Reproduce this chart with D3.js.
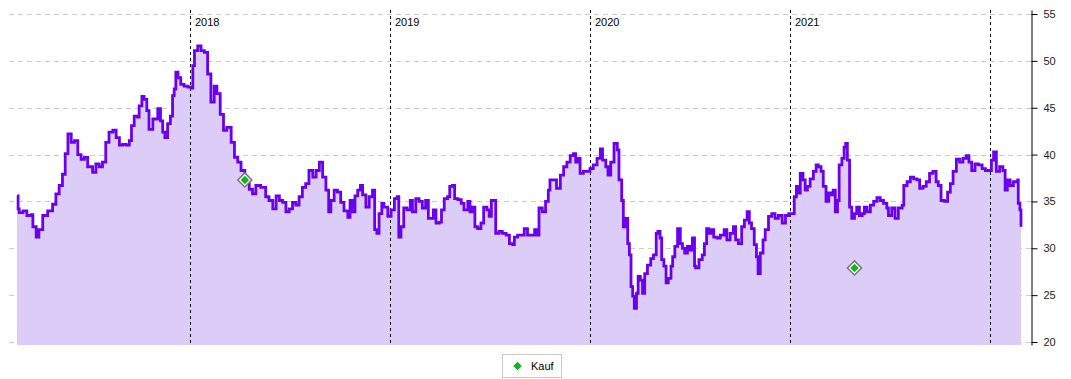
<!DOCTYPE html>
<html><head><meta charset="utf-8">
<script src="https://cdn.jsdelivr.net/npm/d3@7"></script>
<style>
html,body{margin:0;padding:0;background:#fff;}
svg{display:block;font-family:"Liberation Sans",Arial,sans-serif;}
</style></head>
<body>
<svg id="c" width="1071" height="379"></svg>
<script>
const dates = [
"2017-02-17","2017-02-19","2017-02-21","2017-02-28","2017-03-07","2017-03-15","2017-03-18","2017-03-24","2017-03-29","2017-04-05",
"2017-04-14","2017-04-23","2017-04-29","2017-05-05","2017-05-11","2017-05-16","2017-05-21","2017-05-27","2017-06-02","2017-06-08",
"2017-06-14","2017-06-20","2017-06-26","2017-07-05","2017-07-11","2017-07-17","2017-07-23","2017-07-29","2017-08-04","2017-08-11",
"2017-08-17","2017-08-23","2017-08-29","2017-09-04","2017-09-10","2017-09-14","2017-09-19","2017-09-25","2017-09-28","2017-10-03",
"2017-10-07","2017-10-12","2017-10-16","2017-10-23","2017-11-01","2017-11-06","2017-11-10","2017-11-14","2017-11-19","2017-11-24",
"2017-11-28","2017-12-01","2017-12-04","2017-12-08","2017-12-13","2017-12-19","2017-12-26",
"2018-01-02","2018-01-04","2018-01-07","2018-01-13","2018-01-19","2018-01-25","2018-01-31","2018-02-06","2018-02-12","2018-02-17",
"2018-02-23","2018-03-01","2018-03-07","2018-03-15","2018-03-21","2018-03-27","2018-04-02","2018-04-09","2018-04-17","2018-04-23",
"2018-04-29","2018-05-08","2018-05-17","2018-05-23","2018-05-30","2018-06-05","2018-06-11","2018-06-17","2018-06-23","2018-06-29",
"2018-07-05","2018-07-11","2018-07-17","2018-07-23","2018-07-29","2018-08-04","2018-08-11","2018-08-17","2018-08-23","2018-08-29",
"2018-09-04","2018-09-09","2018-09-13","2018-09-19","2018-09-25","2018-10-01","2018-10-07","2018-10-14","2018-10-18","2018-10-23",
"2018-10-27","2018-11-01","2018-11-06","2018-11-10","2018-11-16","2018-11-22","2018-11-28","2018-12-02","2018-12-06","2018-12-10",
"2018-12-15","2018-12-19","2018-12-26",
"2019-01-01","2019-01-07","2019-01-12","2019-01-15","2019-01-19","2019-01-24","2019-01-30","2019-02-05","2019-02-09","2019-02-15",
"2019-02-21","2019-02-27","2019-03-05","2019-03-10","2019-03-15","2019-03-19","2019-03-24","2019-03-30","2019-04-03","2019-04-08",
"2019-04-14","2019-04-18","2019-04-23","2019-04-27","2019-05-03","2019-05-09","2019-05-14","2019-05-21","2019-05-25","2019-05-30",
"2019-06-03","2019-06-08","2019-06-14","2019-06-19","2019-06-25","2019-06-29","2019-07-03","2019-07-08","2019-07-11","2019-07-17",
"2019-07-23","2019-07-30","2019-08-05","2019-08-11","2019-08-14","2019-08-20","2019-08-26","2019-09-01","2019-09-07","2019-09-16",
"2019-09-20","2019-09-25","2019-09-28","2019-10-04","2019-10-10","2019-10-15","2019-10-18","2019-10-24","2019-10-30","2019-11-06",
"2019-11-12","2019-11-18","2019-11-24","2019-11-30","2019-12-04","2019-12-08","2019-12-12","2019-12-18","2019-12-24","2019-12-30",
"2020-01-05","2020-01-12","2020-01-18","2020-01-22","2020-01-28","2020-02-01","2020-02-06","2020-02-12","2020-02-18","2020-02-21",
"2020-02-26","2020-02-29","2020-03-05","2020-03-08","2020-03-11","2020-03-14","2020-03-17","2020-03-20","2020-03-24","2020-03-27",
"2020-03-31","2020-04-04","2020-04-08","2020-04-13","2020-04-19","2020-04-24","2020-04-29","2020-05-02","2020-05-06","2020-05-09",
"2020-05-13","2020-05-17","2020-05-21","2020-05-26","2020-05-29","2020-06-02","2020-06-07","2020-06-12","2020-06-16","2020-06-20",
"2020-06-25","2020-06-30","2020-07-04","2020-07-08","2020-07-10","2020-07-16","2020-07-22","2020-07-26","2020-07-30","2020-08-03",
"2020-08-07","2020-08-12","2020-08-18","2020-08-24","2020-08-31","2020-09-05","2020-09-11","2020-09-17","2020-09-21","2020-09-26",
"2020-10-02","2020-10-07","2020-10-12","2020-10-16","2020-10-20","2020-10-25","2020-10-29","2020-11-01","2020-11-05","2020-11-10",
"2020-11-14","2020-11-20","2020-11-26","2020-12-02","2020-12-08","2020-12-15","2020-12-21","2020-12-27",
"2021-01-02","2021-01-06","2021-01-10","2021-01-14","2021-01-17","2021-01-22","2021-01-26","2021-01-30","2021-02-04","2021-02-10",
"2021-02-15","2021-02-19","2021-02-24","2021-02-28","2021-03-05","2021-03-10","2021-03-14","2021-03-18","2021-03-22","2021-03-26",
"2021-03-29","2021-04-03","2021-04-07","2021-04-10","2021-04-13","2021-04-17","2021-04-21","2021-04-26","2021-04-30","2021-05-05",
"2021-05-10","2021-05-14","2021-05-19","2021-05-25","2021-05-31","2021-06-06","2021-06-12","2021-06-18","2021-06-24","2021-06-27",
"2021-07-03","2021-07-09","2021-07-15","2021-07-22","2021-07-25","2021-07-31","2021-08-06","2021-08-12","2021-08-18","2021-08-23",
"2021-08-29","2021-09-04","2021-09-10","2021-09-16","2021-09-22","2021-09-26","2021-10-01","2021-10-07","2021-10-13","2021-10-18",
"2021-10-23","2021-10-29","2021-11-04","2021-11-10","2021-11-16","2021-11-21","2021-11-26","2021-12-02","2021-12-08","2021-12-15",
"2021-12-21","2021-12-27",
"2022-01-01","2022-01-05","2022-01-10","2022-01-16","2022-01-22","2022-01-26","2022-01-30","2022-02-04","2022-02-10","2022-02-18",
"2022-02-19","2022-02-22","2022-02-24"
];
const prices = [
35.6,34.2,33.8,34.0,33.5,33.6,32.3,31.2,32.0,33.5,
34.0,34.7,35.8,36.7,37.9,40.1,42.2,41.3,41.5,40.0,
39.5,39.7,38.7,38.1,39.0,38.7,39.2,41.3,42.4,42.6,
41.8,41.0,41.1,41.0,41.5,43.1,44.1,44.0,45.2,46.2,
45.9,44.7,42.7,43.8,44.9,43.6,42.4,41.8,43.3,44.1,
46.3,47.0,48.8,48.2,47.5,47.3,47.2,
47.1,49.5,51.1,51.6,51.1,50.9,48.6,45.6,47.3,46.5,
44.3,42.6,42.9,41.3,39.7,39.2,38.3,37.2,36.3,35.8,
36.7,36.5,35.5,35.1,34.2,35.6,35.1,34.9,33.9,34.2,
34.9,34.6,35.5,36.5,36.9,38.3,37.6,38.3,39.2,37.6,
36.2,33.9,35.1,36.2,36.0,34.9,34.0,33.3,35.1,33.9,
35.6,36.2,36.7,35.7,34.4,35.5,36.2,32.0,31.6,33.7,
34.8,34.4,33.4,
34.1,35.3,35.5,31.2,32.3,34.3,34.1,35.1,33.9,35.3,
35.0,34.3,35.1,33.2,33.2,34.1,32.7,32.8,34.1,35.3,
35.5,36.6,36.7,35.3,35.2,34.8,34.1,35.0,33.9,34.4,
32.3,32.1,32.7,34.4,34.1,33.4,35.1,35.1,31.6,31.8,
31.6,31.4,30.5,30.4,31.2,31.4,31.4,32.1,31.4,31.4,
32.0,31.4,34.3,33.9,35.0,36.2,37.3,37.3,36.4,37.8,
38.7,39.2,39.9,40.1,39.2,39.6,38.0,38.2,38.2,38.5,
38.9,39.6,40.6,39.4,38.7,37.8,39.2,41.2,40.5,37.3,
35.1,32.3,33.2,30.5,29.3,25.9,24.9,23.6,25.2,27.0,
26.6,25.2,27.3,28.2,28.9,29.3,31.6,31.8,31.1,28.8,
28.1,26.3,26.8,28.1,29.1,30.2,32.1,30.5,30.0,29.5,
30.2,29.8,31.1,28.1,27.9,28.8,29.3,30.5,32.1,31.6,
32.0,31.2,31.1,31.4,32.0,30.9,31.6,32.3,30.9,30.5,
32.3,33.0,33.9,32.7,32.1,30.4,29.1,27.3,29.5,30.9,
32.0,33.4,33.7,33.2,33.5,32.7,33.5,33.7,
33.7,35.5,36.6,35.9,38.0,37.3,36.2,36.6,37.4,38.2,
38.9,38.7,38.2,36.6,35.0,35.9,35.7,36.2,33.9,35.1,
38.9,39.6,40.8,41.2,39.4,34.4,33.2,33.7,34.4,33.5,
33.7,34.4,33.9,34.6,35.0,35.4,35.1,34.8,34.3,33.5,
34.3,33.2,34.3,34.6,36.7,37.1,37.6,37.4,37.3,36.4,
36.6,37.1,38.0,38.2,37.1,36.7,35.1,35.0,36.0,36.9,
38.2,39.5,39.2,39.6,39.9,39.2,38.3,39.0,38.9,38.5,
38.3,38.3,
39.4,40.3,38.2,38.7,38.3,36.2,37.3,36.7,37.1,37.3,
34.8,34.1,32.3
];
const buyDates = ["2018-04-09","2021-04-26"];
const buyPrices = [37.3, 27.9];
const yTicks = [20,25,30,35,40,45,50,55];
const yearMarks = ["2018-01-01","2019-01-01","2020-01-01","2021-01-01","2022-01-01"];
const yearLabels = ["2018","2019","2020","2021",""];
const legendLabel = "Kauf";

const parse = d3.timeParse("%Y-%m-%d");
const data = dates.map((d,i)=>({date:parse(d), v:prices[i]}));
const buys = buyDates.map((d,i)=>({date:parse(d), v:buyPrices[i]}));

const svg = d3.select("#c");
const x = d3.scaleTime().domain(d3.extent(data,d=>d.date)).range([17,1021]);
const y = d3.scaleLinear().domain([19.68,55.43]).range([345,10]);
const axisX = 1031;

// gridlines
svg.append("g").selectAll("line").data(yTicks).join("line")
  .attr("x1",9).attr("x2",axisX)
  .attr("y1",d=>Math.round(y(d))+0.5).attr("y2",d=>Math.round(y(d))+0.5)
  .attr("stroke","#cccccc").attr("stroke-width",1).attr("stroke-dasharray","5,4");

// area
svg.append("path").datum(data)
  .attr("fill","#dccdf8")
  .attr("d",d3.area().curve(d3.curveStepAfter).x(d=>x(d.date)).y0(y(19.68)).y1(d=>y(d.v)));

// year lines
const yl = svg.append("g");
yearMarks.forEach((m,i)=>{
  const xp = Math.round(x(parse(m)))-0.5;
  yl.append("line").attr("x1",xp).attr("x2",xp).attr("y1",10).attr("y2",345)
    .attr("stroke","#000").attr("stroke-width",1).attr("stroke-dasharray","3,3");
  if(yearLabels[i]) yl.append("text").attr("x",xp+4.5).attr("y",26)
    .attr("font-size",11).attr("fill","#000").text(yearLabels[i]);
});

// line
svg.append("path").datum(data)
  .attr("fill","none").attr("stroke","#6a00f0").attr("stroke-width",2.8)
  .attr("stroke-linejoin","miter")
  .attr("d",d3.line().curve(d3.curveStepAfter).x(d=>x(d.date)).y(d=>y(d.v)));

// axis
const ax = svg.append("g").attr("transform",`translate(${axisX+0.5},0)`)
  .call(d3.axisRight(y).tickValues(yTicks).tickSize(6).tickPadding(6).tickSizeOuter(0));
ax.select(".domain").attr("stroke","#000");
ax.selectAll(".tick line").attr("stroke","#000");
ax.selectAll("text").attr("font-size",11).attr("fill","#222").attr("font-family","Liberation Sans, Arial, sans-serif");

// buy markers
function diamond(g, cx, cy){
  g.append("rect").attr("x",-5).attr("y",-5).attr("width",10).attr("height",10)
   .attr("transform",`translate(${cx},${cy}) rotate(45)`)
   .attr("fill","#ffffff").attr("stroke","#777").attr("stroke-width",1.5);
  g.append("rect").attr("x",-3).attr("y",-3).attr("width",6).attr("height",6)
   .attr("transform",`translate(${cx},${cy}) rotate(45)`)
   .attr("fill","#12b31f");
}
const mg = svg.append("g");
buys.forEach(b=>diamond(mg, x(b.date), y(b.v)));

// legend
const lg = svg.append("g");
lg.append("rect").attr("x",502.5).attr("y",354.5).attr("width",59).attr("height",23)
  .attr("fill","#fff").attr("stroke","#c8c8c8");
lg.append("rect").attr("x",-3).attr("y",-3).attr("width",6).attr("height",6)
  .attr("transform","translate(517.5,366) rotate(45)").attr("fill","#12b31f");
lg.append("text").attr("x",531).attr("y",370).attr("font-size",11).attr("fill","#000").text(legendLabel);
</script>
</body></html>
